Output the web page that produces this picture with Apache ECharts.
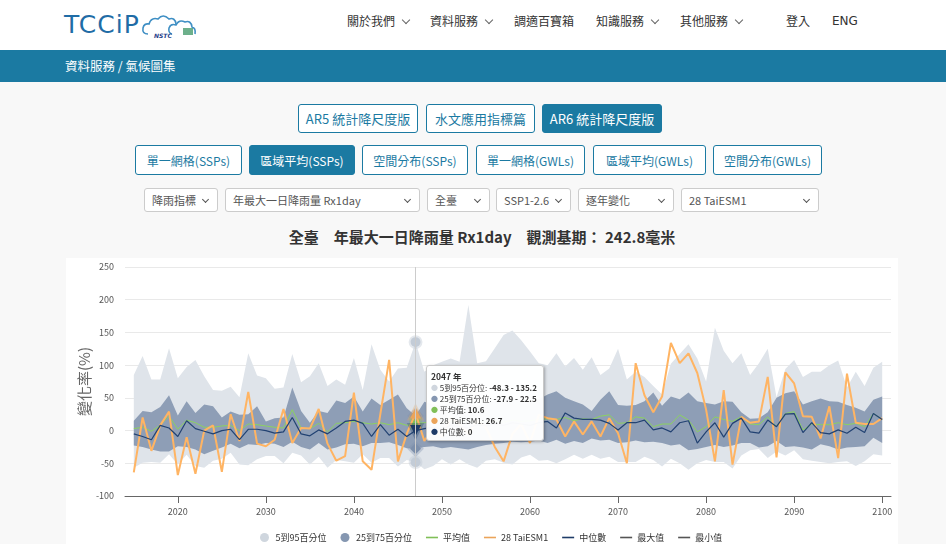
<!DOCTYPE html>
<html><head><meta charset="utf-8">
<script src="https://cdn.jsdelivr.net/npm/echarts@6/dist/echarts.min.js"></script>
<style>
body{margin:0;width:946px;height:544px;overflow:hidden;background:#f8f8f8;font-family:"Noto Sans CJK TC","Noto Sans",sans-serif;position:relative;}
.abs{position:absolute;}
#header{left:0;top:0;width:946px;height:50px;background:#fff;}
.nav{top:12px;font-size:12px;color:#333;line-height:18px;white-space:nowrap;}
.chev{display:inline-block;width:5px;height:5px;border-right:1px solid #666;border-bottom:1px solid #666;transform:rotate(45deg);margin-left:8px;position:relative;top:-3px;}
#band{left:0;top:50px;width:946px;height:32px;background:#1b7aa2;}
.btn{box-sizing:border-box;border:1px solid #1b7aa2;border-radius:3px;color:#1b7aa2;display:flex;align-items:center;justify-content:center;background:#fff;white-space:nowrap;}
.btn.on{background:#1b7aa2;color:#fff;}
.sel{box-sizing:border-box;border:1px solid #ccc;border-radius:3px;background:#fff;color:#555;font-size:11px;padding-left:7px;display:flex;align-items:center;white-space:nowrap;}
.sel::after{content:'';position:absolute;right:9px;top:8px;width:4px;height:4px;border-right:1.2px solid #555;border-bottom:1.2px solid #555;transform:rotate(45deg);}
#title{left:0;width:964px;top:226px;text-align:center;font-size:15px;font-weight:bold;color:#333;line-height:22px;white-space:pre;}
#chart{left:66px;top:258px;width:832px;height:286px;background:#fff;}
</style>
</head><body>
<div id="header" class="abs">
  <svg class="abs" style="left:62px;top:8px" width="145" height="32" viewBox="0 0 145 32">
    <text x="2" y="25" font-family="DejaVu Sans" font-size="25" fill="#1f6ca6" letter-spacing="1">TCCiP</text>
    <g fill="none" stroke="#3f8fc4" stroke-width="1.6">
      <path d="M86 26 q-6 0 -5 -6 q1 -5 6 -4 q2 -7 9 -5 q5 -6 11 0 q6 -2 7 5"/>
      <path d="M110 26 q-4 -1 -3 -6 q2 -5 7 -3 q3 -6 9 -3 q6 -2 7 5 q4 1 3 7"/>
    </g>
    <text x="92" y="30" font-family="DejaVu Sans" font-size="6" font-style="italic" font-weight="bold" fill="#1f3f8a">NSTC</text>
    <rect x="121" y="20" width="10" height="7" fill="#2f8f5a" opacity="0.7"/>
  </svg>
  <div class="abs nav" style="left:347px">關於我們<span class="chev"></span></div>
  <div class="abs nav" style="left:430px">資料服務<span class="chev"></span></div>
  <div class="abs nav" style="left:514px">調適百寶箱</div>
  <div class="abs nav" style="left:596px">知識服務<span class="chev"></span></div>
  <div class="abs nav" style="left:680px">其他服務<span class="chev"></span></div>
  <div class="abs nav" style="left:786px">登入</div>
  <div class="abs nav" style="left:832px;font-family:'DejaVu Sans';font-size:12px">ENG</div>
</div>
<div id="band" class="abs"><div class="abs" style="left:65px;top:6px;color:#fff;font-size:12.5px;line-height:20px">資料服務 / 氣候圖集</div></div>

<div class="abs btn" style="left:298px;top:104px;width:120px;height:29px;font-size:13px">AR5 統計降尺度版</div>
<div class="abs btn" style="left:426px;top:104px;width:109px;height:29px;font-size:13px">水文應用指標篇</div>
<div class="abs btn on" style="left:542px;top:104px;width:120px;height:29px;font-size:13px">AR6 統計降尺度版</div>

<div class="abs btn" style="left:135px;top:145px;width:107px;height:30px;font-size:12px">單一網格(SSPs)</div>
<div class="abs btn on" style="left:249px;top:145px;width:106px;height:30px;font-size:12px">區域平均(SSPs)</div>
<div class="abs btn" style="left:362px;top:145px;width:106px;height:30px;font-size:12px">空間分布(SSPs)</div>
<div class="abs btn" style="left:476px;top:145px;width:109px;height:30px;font-size:12px">單一網格(GWLs)</div>
<div class="abs btn" style="left:593px;top:145px;width:113px;height:30px;font-size:12px">區域平均(GWLs)</div>
<div class="abs btn" style="left:713px;top:145px;width:109px;height:30px;font-size:12px">空間分布(GWLs)</div>

<div class="abs sel" style="left:144px;top:188px;width:74px;height:24px">降雨指標</div>
<div class="abs sel" style="left:225px;top:188px;width:195px;height:24px">年最大一日降雨量 Rx1day</div>
<div class="abs sel" style="left:427px;top:188px;width:63px;height:24px">全臺</div>
<div class="abs sel" style="left:496px;top:188px;width:75px;height:24px">SSP1-2.6</div>
<div class="abs sel" style="left:578px;top:188px;width:96px;height:24px">逐年變化</div>
<div class="abs sel" style="left:681px;top:188px;width:138px;height:24px">28 TaiESM1</div>

<div id="title" class="abs">全臺　年最大一日降雨量 Rx1day　觀測基期： 242.8毫米</div>
<div id="chart" class="abs"></div>

<script>
const years = [2015,2016,2017,2018,2019,2020,2021,2022,2023,2024,
  2025,2026,2027,2028,2029,2030,2031,2032,2033,2034,
  2035,2036,2037,2038,2039,2040,2041,2042,2043,2044,
  2045,2046,2047,2048,2049,2050,2051,2052,2053,2054,
  2055,2056,2057,2058,2059,2060,2061,2062,2063,2064,
  2065,2066,2067,2068,2069,2070,2071,2072,2073,2074,
  2075,2076,2077,2078,2079,2080,2081,2082,2083,2084,
  2085,2086,2087,2088,2089,2090,2091,2092,2093,2094,
  2095,2096,2097,2098,2099,2100];
const p95 = [85,114,78,78,126,80,97,108,83,62,
  61,67,51,118,84,80,64,66,117,74,
  83,103,68,78,70,111,62,132,93,75,
  95,96,135.2,90,100,105,110,105,192,103,
  106,126,146,153,138,121,103,100,118,98,
  111,93,112,85,95,125,78,90,82,68,
  55,102,117,132,110,75,157,122,103,118,
  85,103,125,51,94,108,82,90,90,100,
  107,66,90,68,96,105];
const p5 = [-57,-49,-48,-49,-36,-52,-37,-54,-57,-46,
  -43,-34,-52,-53,-44,-39,-39,-50,-34,-38,
  -52,-40,-57,-45,-47,-49,-36,-49,-42,-42,
  -55,-45,-48.3,-59,-54,-44,-52,-44,-52,-57,
  -46,-44,-49,-52,-41,-37,-46,-45,-50,-44,
  -37,-43,-37,-43,-40,-48,-48,-48,-40,-45,
  -55,-43,-50,-60,-50,-45,-48,-48,-58,-38,
  -30,-28,-42,-32,-38,-30,-44,-46,-48,-50,
  -48,-47,-54,-47,-36,-38];
const p75 = [15,30,28,36,54,23,45,27,40,37,
  20,29,24,25,37,14,19,20,66,30,
  12,30,27,46,42,52,29,49,39,47,
  55,34,22.5,44,40,38,42,45,40,38,
  42,45,48,50,46,44,48,55,60,50,
  45,40,30,47,60,39,38,39,45,58,
  38,52,48,58,45,42,40,45,44,28,
  18,19,28,50,57,60,40,45,49,45,
  44,39,35,29,47,52];
const p25 = [-23,-25,-29,-32,-32,-24,-25,-29,-36,-31,
  -26,-20,-27,-21,-22,-19,-20,-25,-17,-25,
  -29,-19,-29,-26,-21,-20,-24,-19,-19,-18,
  -22,-27,-27.9,-25,-24,-27,-25,-27,-29,-25,
  -22,-20,-19,-17,-18,-17,-15,-19,-14,-20,
  -16,-19,-12,-15,-14,-19,-18,-15,-18,-17,
  -19,-23,-21,-30,-28,-25,-22,-25,-23,-19,
  -19,-26,-24,-16,-25,-24,-26,-29,-21,-24,
  -29,-26,-25,-24,-11,-19];
const meanV = [3,5,-1,8,22,2,16,12,5,5,
  7,8,0,10,9,7,5,4,32,4,
  3,11,-2,11,12,14,12,10,12,9,
  12,8,10.6,12,13,12,14,13,15,12,
  14,15,13,16,14,15,17,18,17,20,
  15,18,17,22,24,11,12,21,19,6,
  10,10,24,16,-2,6,21,17,14,21,
  10,9,21,6,26,29,1,10,9,9,
  12,9,11,6,26,17];
const median = [-5,-9,-14,8,4,-9,15,3,-1,-5,
  0,2,-14,2,2,0,-4,-2,20,-5,
  -8,1,-5,4,14,16,11,-9,9,-7,
  2,-9,0,3,5,2,8,6,4,9,
  7,10,8,12,10,8,12,14,4,27,
  19,17,17,16,11,1,12,12,16,1,
  4,-2,12,15,-19,-2,12,-10,11,19,
  -2,-4,16,6,25,26,-3,12,-3,-5,
  1,-4,5,-3,26,17];
const taiesm = [-64,20,-31,8,29,-68,-10,-66,0,8,
  -63,25,-16,59,-20,-24,-14,33,-19,4,
  3,33,-20,-46,-39,58,-47,-60,25,108,
  -47,-5,26.7,-16,5,-10,20,10,-5,15,
  5,-25,-47,-5,10,-19,24,19,17,-9,
  14,-6,14,-9,19,-4,-50,103,54,28,
  52,134,103,118,88,32,-47,62,-52,21,
  12,14,82,-41,89,72,22,21,-12,37,
  -42,87,12,10,10,19];
const maxV = [];
const minV = [];
const yTicks = {min:-100, max:250, step:50};
const axisPadStart = 2014, axisPadEnd = 2101;
const hoverYear = 2047;

const axisYears = [String(axisPadStart)].concat(years.map(String), [String(axisPadEnd)]);
const pad = a => [null].concat(a, [null]);
const diff = (hi, lo) => hi.map((v,i) => +(v - lo[i]).toFixed(2));

const C_LIGHT='rgb(223,228,234)', C_DARK='#8e9eb6', C_GREEN='#80bf58', C_ORANGE='#eba45a', C_NAVY='#1f3c68';
const LINE_ICON='path://M0,0H12V1.6H0Z';

function halo(c){return {itemStyle:{borderColor:c,borderWidth:4}};}
const noBlur = {areaStyle:{opacity:1},lineStyle:{opacity:0},itemStyle:{opacity:1}};

const chart = echarts.init(document.getElementById('chart'), null, {renderer:'canvas'});
chart.setOption({
  animation:false,
  textStyle:{fontFamily:'"Noto Sans CJK TC","Noto Sans",sans-serif'},
  grid:{left:59,right:7,top:9,bottom:48,containLabel:false,outerBoundsMode:'none'},
  legend:{
    left:194, top:275, itemWidth:12, itemHeight:9, itemGap:14, padding:0,
    textStyle:{fontSize:9,color:'#333'},
    data:[
      {name:'5到95百分位',icon:'circle',itemStyle:{color:'#cfd6de'}},
      {name:'25到75百分位',icon:'circle',itemStyle:{color:'#8597b1'}},
      {name:'平均值',icon:LINE_ICON},
      {name:'28 TaiESM1',icon:LINE_ICON},
      {name:'中位數',icon:LINE_ICON},
      {name:'最大值',icon:LINE_ICON},
      {name:'最小值',icon:LINE_ICON}
    ]
  },
  tooltip:{
    trigger:'axis', alwaysShowContent:true, transitionDuration:0, showDelay:0,
    position:[360,107],
    backgroundColor:'rgba(255,255,255,0.97)', borderColor:'#c8c8c8', borderWidth:1,
    padding:[5,6,3,4],
    extraCssText:'box-shadow:1px 1px 3px rgba(0,0,0,0.3);border-radius:3px;',
    textStyle:{fontSize:9,color:'#333'},
    axisPointer:{type:'line',animation:false,lineStyle:{color:'#cccccc',width:1,type:'solid'},label:{show:false}},
    formatter:function(params){
      const i = params[0].dataIndex - 1;
      const b = (c)=>'<span style="color:'+c+';font-size:7px;vertical-align:1px">●</span> ';
      const st='font-size:8px;line-height:11px;color:#333;font-family:Noto Sans CJK TC,sans-serif;white-space:nowrap';
      return '<div style="'+st+'">'+
        '<b style="font-size:8.5px">'+years[i]+' 年</b><br>'+
        b('#cfd6de')+'5到95百分位: <b>'+p5[i]+' - '+p95[i]+'</b><br>'+
        b('#8597b1')+'25到75百分位: <b>'+p25[i]+' - '+p75[i]+'</b><br>'+
        b(C_GREEN)+'平均值: <b>'+meanV[i]+'</b><br>'+
        b(C_ORANGE)+'28 TaiESM1: <b>'+taiesm[i]+'</b><br>'+
        b(C_NAVY)+'中位數: <b>'+median[i]+'</b></div>';
    }
  },
  xAxis:{
    type:'category', boundaryGap:false, data:axisYears,
    axisLine:{onZero:false,lineStyle:{color:'#666',width:1}},
    axisTick:{length:7,lineStyle:{color:'#666'},interval:(idx,v)=>(+v)%10===0},
    axisLabel:{fontSize:9,color:'#555',margin:11,interval:(idx,v)=>(+v)%10===0},
    splitLine:{show:false}
  },
  yAxis:{
    type:'value', min:yTicks.min, max:yTicks.max, interval:yTicks.step,
    name:'變化率(%)', nameLocation:'middle', nameGap:33, nameMoveOverlap:false,
    nameTextStyle:{fontSize:15,color:'#666'},
    axisLine:{show:false}, axisTick:{show:false},
    axisLabel:{fontSize:9,color:'#555',margin:11},
    splitLine:{lineStyle:{color:'#e9e9e9',type:'solid'}}
  },
  series:[
    {name:'5到95百分位',type:'line',data:pad(p5),stack:'band95',stackStrategy:'all',
      showSymbol:false,symbol:'circle',symbolSize:9,itemStyle:{color:'#c3ccd7'},
      lineStyle:{opacity:0},emphasis:halo('rgba(195,204,215,0.45)'),blur:noBlur,z:1},
    {name:'5到95百分位',type:'line',data:pad(diff(p95,p5)),stack:'band95',stackStrategy:'all',
      showSymbol:false,symbol:'circle',symbolSize:9,itemStyle:{color:'#c3ccd7'},
      lineStyle:{opacity:0},areaStyle:{color:C_LIGHT,opacity:1},
      emphasis:Object.assign(halo('rgba(195,204,215,0.45)'),{areaStyle:{color:C_LIGHT,opacity:1}}),blur:noBlur,z:1},
    {name:'25到75百分位',type:'line',data:pad(p25),stack:'band75',stackStrategy:'all',
      showSymbol:false,symbol:'diamond',symbolSize:10,itemStyle:{color:'#7d90ab'},
      lineStyle:{opacity:0},emphasis:halo('rgba(125,144,171,0.35)'),blur:noBlur,z:2},
    {name:'25到75百分位',type:'line',data:pad(diff(p75,p25)),stack:'band75',stackStrategy:'all',
      showSymbol:false,symbol:'diamond',symbolSize:10,itemStyle:{color:'#7d90ab'},
      lineStyle:{opacity:0},areaStyle:{color:C_DARK,opacity:1},
      emphasis:Object.assign(halo('rgba(125,144,171,0.35)'),{areaStyle:{color:C_DARK,opacity:1}}),blur:noBlur,z:2},
    {name:'平均值',type:'line',data:pad(meanV),showSymbol:false,symbol:'rect',symbolSize:8,
      itemStyle:{color:C_GREEN},lineStyle:{color:C_GREEN,width:1},emphasis:halo('rgba(128,191,88,0.3)'),z:3},
    {name:'28 TaiESM1',type:'line',data:pad(taiesm),showSymbol:false,symbol:'triangle',symbolSize:10,
      itemStyle:{color:C_ORANGE},lineStyle:{color:C_ORANGE,width:2},emphasis:halo('rgba(235,164,90,0.3)'),z:4},
    {name:'中位數',type:'line',data:pad(median),showSymbol:false,symbol:'triangle',symbolRotate:180,symbolSize:10,
      itemStyle:{color:C_NAVY},lineStyle:{color:C_NAVY,width:1.2},emphasis:halo('rgba(31,60,104,0.3)'),z:5},
    {name:'最大值',type:'line',data:maxV,showSymbol:false,itemStyle:{color:'#555'},lineStyle:{color:'#555',width:1}},
    {name:'最小值',type:'line',data:minV,showSymbol:false,itemStyle:{color:'#555'},lineStyle:{color:'#555',width:1}}
  ]
});
chart.dispatchAction({type:'showTip',seriesIndex:6,dataIndex:axisYears.indexOf(String(hoverYear))});
</script>
</body></html>
